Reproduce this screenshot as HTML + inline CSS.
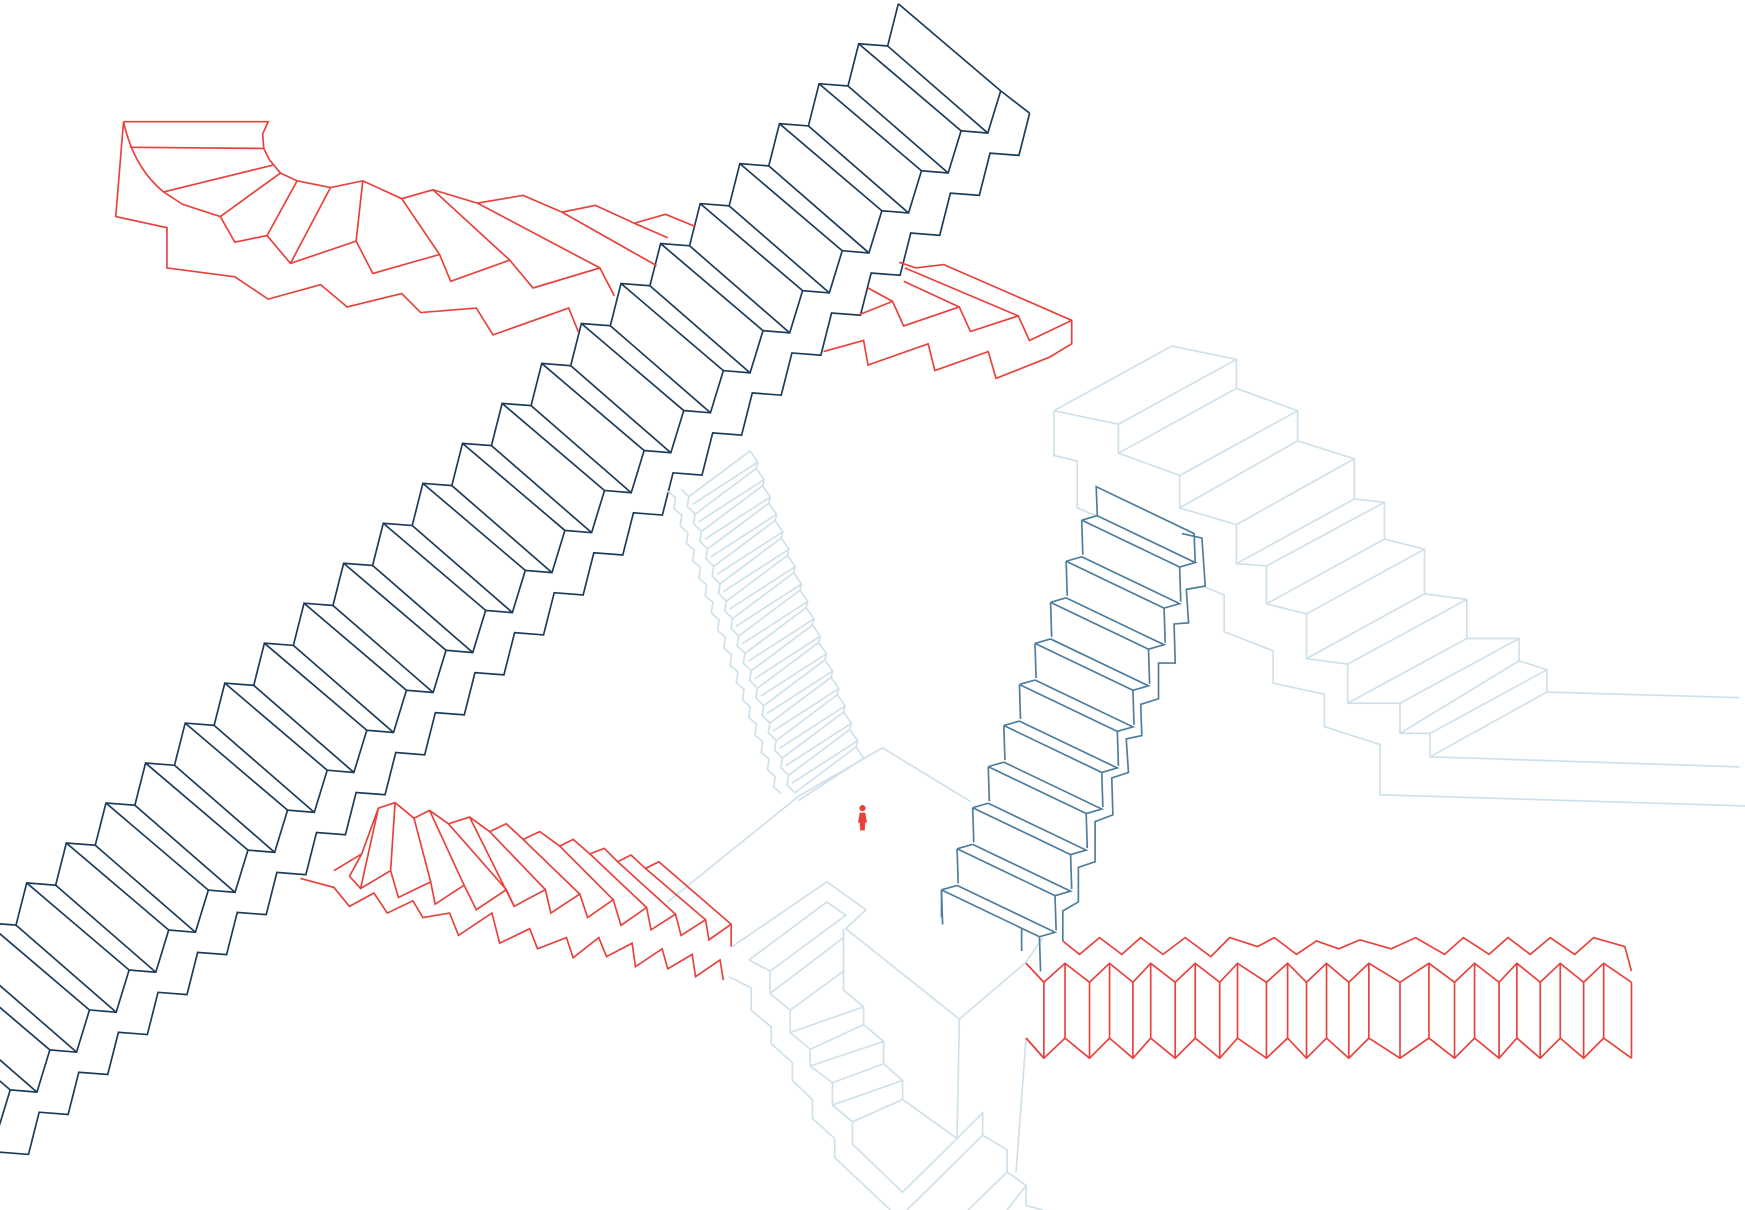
<!DOCTYPE html>
<html><head><meta charset="utf-8"><style>
html,body{margin:0;padding:0;background:#fff;}
svg{display:block;width:1745px;height:1210px;}
</style></head><body>
<svg id="art" viewBox="0 0 1568 1084" preserveAspectRatio="none" xmlns="http://www.w3.org/2000/svg" fill="none" stroke-linejoin="miter" stroke-width="1.5">
<g id="light" stroke="#cfe0ea">
  <polyline points="947,368 1053,310 1111,322 1111,348 1166,368 1166,395 1217,411 1217,447 1244,450 1244,483 1280,492 1280,532 1318,537 1318,572 1365,572 1365,592 1390,600 1390,620 1563,625"/>
  <polyline points="947,368 1005,380 1005,406 1060,426 1060,455 1111,470 1111,505 1138,507 1138,541 1174,550 1174,590 1211,595 1211,630 1258,630 1258,657 1285,657 1285,678 1563,687"/>
  <polyline points="947,368 947,408 968,413 968,455 985,462"/>
  <polyline points="1080,525 1100,533 1100,566 1144,583 1144,612 1190,622 1190,651 1240,667 1240,712 1568,722"/>
  <polyline points="1005,380 1111,322"/>
  <polyline points="1005,406 1111,348"/>
  <polyline points="1060,426 1166,368"/>
  <polyline points="1060,455 1166,395"/>
  <polyline points="1111,470 1217,411"/>
  <polyline points="1111,505 1217,447"/>
  <polyline points="1138,507 1244,450"/>
  <polyline points="1138,541 1244,483"/>
  <polyline points="1174,550 1280,492"/>
  <polyline points="1174,590 1280,532"/>
  <polyline points="1211,595 1318,537"/>
  <polyline points="1211,630 1318,572"/>
  <polyline points="1258,630 1365,572"/>
  <polyline points="1258,657 1365,592"/>
  <polyline points="1285,657 1390,600"/>
  <polyline points="1285,678 1390,620"/>
  <polyline points="600,808 718,713 793,670 872,718"/>
  <polyline points="658,848 743,790 778,815 760,832 862,913 922,862 937,840"/>
  <polyline points="673,860 743,808 760,820 692,870"/>
  <polyline points="758,832 758,887"/>
  <polyline points="673,860 692,870 692,890 710,905 710,925 728,940 728,955 748,970 748,990 766,1005 766,1025 811,1068 860,1020"/>
  <polyline points="758,887 776,902 776,918 794,933 794,953 811,968 811,985 860,1020"/>
  <polyline points="692,890 758,840"/>
  <polyline points="710,905 758,870"/>
  <polyline points="710,925 776,902"/>
  <polyline points="728,940 776,918"/>
  <polyline points="728,955 794,933"/>
  <polyline points="748,970 794,953"/>
  <polyline points="748,990 811,968"/>
  <polyline points="766,1005 811,985"/>
  <polyline points="655,875 675,885 675,905 693,920 693,935 712,952 712,968 730,985 730,1002 750,1020 750,1037 800,1084"/>
  <polyline points="862,913 860,1020 883,997 883,1017 905,1030 905,1050 922,1062 922,1080 937,1084"/>
  <polyline points="883,1017 815,1084"/>
  <polyline points="905,1050 870,1084"/>
  <polyline points="922,1062 905,1084"/>
  <polyline points="922,930 913,1050"/>
</g>
<g id="gen"></g>
<g id="red" stroke="#e8413c">
  <polyline points="111,109 241,109 236,120 237,133 242,143 252,155 267,162 297,168 326,162 361,178 389,170 429,182 470,175 505,190 535,184 570,200 598,192 625,203"/>
  <polyline points="111,109 104,194 150,204 150,240 211,248 241,268 288,255 312,275 361,263 378,280 428,276 443,300 511,276 520,298"/>
  <polyline points="117,132 237,133"/>
  <polyline points="147,172 245,148"/>
  <path d="M111,109 Q120,150 147,172 L164,183 198,194 211,217 240,211 261,236 320,216 335,245 395,228 405,252 458,233 479,258 539,240 552,265"/>
  <polyline points="198,194 252,155"/>
  <polyline points="240,211 267,162"/>
  <polyline points="261,236 297,168"/>
  <polyline points="320,216 326,162"/>
  <polyline points="361,178 395,228"/>
  <polyline points="389,170 458,233"/>
  <polyline points="429,182 539,240"/>
  <polyline points="505,190 590,238"/>
  <polyline points="570,200 600,213"/>
  <polyline points="808,235 823,240 848,237 963,287 963,308 943,320 895,339 888,315 840,332 834,308 780,327 776,305 740,315"/>
  <polyline points="813,240 915,283 925,305 963,287"/>
  <polyline points="812,252 862,275 872,297 915,283"/>
  <polyline points="780,258 802,270 812,292 862,275"/>
  <polyline points="772,282 802,270"/>
  <polyline points="270,787 300,795 314,812 336,800 348,818 371,807 380,822 404,818 412,838 442,818 449,845 476,832 483,850 509,840 515,858 538,840 545,857 568,845 571,866 595,850 600,868 622,855 625,875 647,860 650,878"/>
  <polyline points="300,780 325,765 340,724 355,719 372,733 386,726 403,738 422,732 440,745 455,738 470,752 485,745 503,758 515,752 530,765 543,760 555,772 567,766 580,778 592,772 657,828 657,848"/>
  <polyline points="314,785 324,796 351,780 358,804 387,790 391,810 417,793 428,815 455,797 462,812 490,797 495,818 521,801 528,822 551,806 558,829 581,813 585,833 607,819 612,838 634,824 637,842 657,828"/>
  <polyline points="325,765 314,785"/>
  <polyline points="340,724 324,796"/>
  <polyline points="355,719 351,780"/>
  <polyline points="372,733 387,790"/>
  <polyline points="386,726 417,793"/>
  <polyline points="403,738 455,797"/>
  <polyline points="422,732 462,812"/>
  <polyline points="440,745 490,797"/>
  <polyline points="470,752 521,801"/>
  <polyline points="503,758 551,806"/>
  <polyline points="530,765 581,813"/>
  <polyline points="555,772 607,819"/>
  <polyline points="580,778 634,824"/>
  <polyline points="955,843 970,855 988,840 1008,855 1025,840 1045,855 1065,840 1088,857 1105,840 1130,848 1145,840 1165,855 1183,843 1203,850 1222,842 1250,850 1272,840 1298,855 1315,840 1338,855 1355,840 1375,855 1393,840 1415,855 1432,840 1460,848 1466,870"/>
  <polyline points="922,930 938,948"/>
  <polyline points="922,863 938,880"/>
  <g id="accordion"></g>
  <g fill="#e8413c" stroke="none">
    <circle cx="775" cy="724" r="2.8"/>
    <path d="M772.5,728 L777.5,728 L779,737 L777.5,737 L777,744 L773,744 L772.5,737 L771,737 Z"/>
  </g>
</g>
</svg>
<script>
const NS='http://www.w3.org/2000/svg';
const gen=document.getElementById('gen');
function pl(parent,pts,color,name){
  const p=document.createElementNS(NS,'polyline');
  p.setAttribute('points',pts.map(a=>a[0].toFixed(1)+','+a[1].toFixed(1)).join(' '));
  if(color)p.setAttribute('stroke',color);
  
  
  parent.appendChild(p);
}
const navy='#1b3a57';
const dx=35.6, dy=-35.8, tw=[26,2], O=[118,98], D=[92,78];
let upPts=[], lowPts=[], midPts=[];
for(let i=-6;i<=22;i++){
  const T=[24+i*dx,791+i*dy];
  const T2=[T[0]+tw[0],T[1]+tw[1]];
  upPts.push(T,T2);
  lowPts.push([T[0]+O[0],T[1]+O[1]]);
  midPts.push([T[0]+D[0],T[1]+D[1]]);
  pl(gen,[T,[T[0]+D[0],T[1]+D[1]]],navy,'navy-tread-edge');
  if(i<22){
    lowPts.push([T2[0]+O[0],T2[1]+O[1]]);
    midPts.push([T2[0]+D[0]-2,T2[1]+D[1]]);
    pl(gen,[T2,[T2[0]+D[0]-2,T2[1]+D[1]]],navy,'navy-tread-edge');
  }
}
upPts.pop();
pl(gen,upPts,navy,'navy-stair-upper-edge');
pl(gen,lowPts,navy,'navy-stair-lower-edge');
pl(gen,midPts,navy,'navy-stair-inner-edge');
pl(gen,[midPts[midPts.length-1],lowPts[lowPts.length-1]],navy,'navy-top-end');
const lb='#cfe0ea';
let lz=[], rz=[], lz2=[];
for(let i=0;i<18;i++){
  const L=[612+i*5.6,438+i*15.6];
  lz.push(L,[L[0]+7,L[1]+7]);
  const R=[L[0]+57,L[1]-30];
  rz.push([R[0]+5,R[1]-4],[R[0]+12,R[1]+6]);
  pl(gen,[[L[0]+7,L[1]+7],[R[0]+5,R[1]-4]],lb,'light-tread');
  pl(gen,[[L[0]+10,L[1]+14],[R[0]+12,R[1]+6]],lb,'light-tread');
  lz2.push([L[0]-12,L[1]+2],[L[0]-5,L[1]+8]);
}
pl(gen,lz,lb,'light-stair-inner-edge');
pl(gen,rz,lb,'light-stair-right-edge');
pl(gen,lz2,lb,'light-stair-outer-edge');
const sb='#4d7c9c';
for(let i=0;i<10;i++){
  const A=[972-i*14,466+i*36.8];
  const B=[A[0]+14,A[1]-4];
  const F=[A[0]+88,A[1]+42];
  const BF=[B[0]+88,B[1]+42];
  pl(gen,[A,B],sb,'steel-tread-side');
  pl(gen,[A,F],sb,'steel-tread-front');
  pl(gen,[B,BF,F],sb,'steel-tread-back');
  pl(gen,[A,[A[0]+1,A[1]+31]],sb,'steel-riser-left');
  pl(gen,[F,[F[0]+1,F[1]+31]],sb,'steel-riser-right');
}
pl(gen,[[986,462],[985,436],[1073,478],[1074,504]],sb,'steel-top-wall');
pl(gen,[[846,797],[846,822]],sb,'steel-bottom-post');
pl(gen,[[918,832],[918,852]],sb,'steel-bottom-post');
pl(gen,[[1062,478],[1080,482],[1083,525],[1066,528],[1068,558],[1055,559],[1056,594],[1041,594],[1041,626],[1025,631],[1026,659],[1012,662],[1014,692],[999,697],[1000,730],[984,736],[984,772],[969,777],[969,808],[955,816],[955,843]],sb,'steel-outer-edge');
const acc=document.getElementById('accordion');
const foldXs=[938,957,979,997,1018,1034,1056,1074,1096,1112,1138,1157,1174,1192,1212,1230,1258,1284,1307,1325,1347,1363,1384,1402,1423,1441,1466];
let topPts=[[922,863]], botPts=[[922,930]];
foldXs.forEach((x,i)=>{
  const ty=i%2===0?880:863, by=i%2===0?948:930;
  topPts.push([x,ty]); botPts.push([x,by]);
  pl(acc,[[x,ty],[x,by]],'#e8413c','accordion-fold');
});
pl(acc,topPts,'#e8413c','accordion-top');
pl(acc,botPts,'#e8413c','accordion-bottom');
</script>
</body></html>
